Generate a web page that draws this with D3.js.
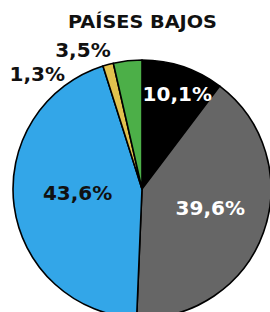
<!DOCTYPE html>
<html><head><meta charset="utf-8">
<script src="https://cdn.jsdelivr.net/npm/d3@7"></script>
<style>body{margin:0;background:#fff}svg{display:block}</style>
</head><body>
<svg id="c" width="270" height="312"></svg>
<script>
const title = "PAÍSES BAJOS";
const categories = ["Negro", "Gris", "Azul", "Amarillo", "Verde"];
const values = [10.1, 39.6, 43.6, 1.3, 3.5];
const labels = ["10,1%", "39,6%", "43,6%", "1,3%", "3,5%"];
const colors = ["#000000", "#666666", "#33a6e8", "#e2c24e", "#4caf48"];

const svg = d3.select("#c");
const cx = 142, cy = 189, R = 129;
const font = "'DejaVu Sans', sans-serif";

svg.append("text").attr("x", 142.5).attr("y", 28).attr("text-anchor", "middle")
  .attr("font-family", font).attr("font-weight", "bold").attr("font-size", 18)
  .attr("textLength", 149).attr("lengthAdjust", "spacingAndGlyphs")
  .attr("fill", "#111").text(title);

const pie = d3.pie().sort(null).value(d => d)(values);
const arc = d3.arc().innerRadius(0).outerRadius(R);
const g = svg.append("g").attr("transform", `translate(${cx},${cy})`);
g.selectAll("path").data(pie).join("path")
  .attr("d", arc).attr("fill", (d, i) => colors[i])
  .attr("stroke", "#000").attr("stroke-width", 1.6).attr("stroke-linejoin", "round");

// label placement: radius (fraction of R) and angle shift (radians) per slice
const labelR = [0.79, 0.55, 0.5, 1.21, 1.17];
const labelShift = [0.03, -0.07, 0.08, -0.47, -0.29];
const textColor = ["#fff", "#fff", "#111", "#111", "#111"];
pie.forEach((d, i) => {
  const a = (d.startAngle + d.endAngle) / 2 + labelShift[i];
  const r = R * labelR[i];
  g.append("text")
    .attr("x", r * Math.sin(a)).attr("y", -r * Math.cos(a))
    .attr("dy", "0.36em").attr("text-anchor", "middle")
    .attr("font-family", font).attr("font-weight", "bold").attr("font-size", 20)
    .attr("fill", textColor[i]).text(labels[i]);
});
</script>
</body></html>
